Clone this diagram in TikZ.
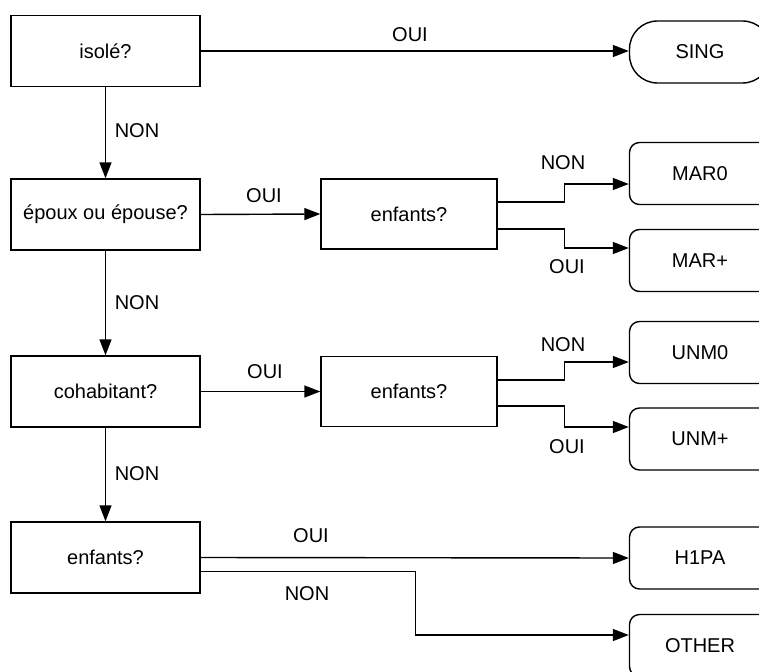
\documentclass[tikz,border=0pt]{standalone}
\usepackage{fontspec}
\setmainfont{Liberation Sans}
\usetikzlibrary{arrows.meta,calc}
\begin{document}
\begin{tikzpicture}[x=1pt,y=-1pt,
  font=\fontsize{20}{24}\selectfont,
  qbox/.style={draw,line width=1.4pt,minimum width=189pt,minimum height=71pt,inner sep=0pt},
  mbox/.style={draw,line width=1.4pt,minimum width=176pt,minimum height=70pt,inner sep=0pt},
  rbox/.style={draw,line width=1.4pt,rounded corners=10pt,minimum width=141pt,minimum height=62pt,inner sep=0pt},
  sbox/.style={draw,line width=1.4pt,rounded corners=28pt,minimum width=141pt,minimum height=62pt,inner sep=0pt},
  arr/.style={-{Triangle[length=16pt,width=12pt]},line width=1.4pt},
  lbl/.style={inner sep=0pt}]
\useasboundingbox (0,0) rectangle (759,671);
\clip (0,0) rectangle (759,671);
% left column
\node[qbox] (isole) at (105.5,51) {isolé?};
\node[qbox] (epoux) at (105.5,214.5) {époux ou épouse?};
\node[qbox] (cohab) at (105.5,391.5) {cohabitant?};
\node[qbox] (enfD) at (105.5,557.5) {enfants?};
% middle column
\node[mbox] (enfA) at (409,214) {enfants?};
\node[mbox] (enfB) at (409,391.5) {enfants?};
% right column
\node[sbox] (sing) at (700,52) {SING};
\node[rbox] (mar0) at (700,173.5) {MAR0};
\node[rbox] (marp) at (700,260.5) {MAR+};
\node[rbox] (unm0) at (700,352.5) {UNM0};
\node[rbox] (unmp) at (700,439) {UNM+};
\node[rbox] (h1pa) at (700,558) {H1PA};
\node[rbox] (other) at (700,645.5) {OTHER};
% connectors
\draw[arr] (isole.east) -- (isole.east -| sing.west);
\draw[arr] (isole.south) -- (epoux.north);
\draw[arr] (epoux.south) -- (cohab.north);
\draw[arr] (cohab.south) -- (enfD.north);
\draw[arr] (epoux.east) -- (enfA.west);
\draw[arr] (cohab.east) -- (enfB.west);
\draw[arr] ([yshift=12pt]enfA.east) -- ++(67,0) |- ([yshift=-10.5pt]mar0.west);
\draw[arr] ([yshift=-15pt]enfA.east) -- ++(67,0) |- ([yshift=12.5pt]marp.west);
\draw[arr] ([yshift=11.5pt]enfB.east) -- ++(67,0) |- ([yshift=-9.5pt]unm0.west);
\draw[arr] ([yshift=-14.5pt]enfB.east) -- ++(67,0) |- ([yshift=12pt]unmp.west);
\draw[arr] (enfD.east) -- (h1pa.west);
\draw[arr] ([yshift=-14pt]enfD.east) -- ++(215,0) |- ([yshift=10.5pt]other.west);
% labels
\node[lbl] (l1) at (410,35) {OUI};
\node[lbl] (l2) at (137,131) {NON};
\node[lbl] (l3) at (137,303) {NON};
\node[lbl] (l4) at (137,474) {NON};
\node[lbl] (l5) at (264,196) {OUI};
\node[lbl] (l6) at (265,372) {OUI};
\node[lbl] (l7) at (563,163) {NON};
\node[lbl] (l8) at (567,267) {OUI};
\node[lbl] (l9) at (563,345) {NON};
\node[lbl] (l10) at (567,447) {OUI};
\node[lbl] (l11) at (311,536) {OUI};
\node[lbl] (l12) at (307,594) {NON};
\end{tikzpicture}
\end{document}
